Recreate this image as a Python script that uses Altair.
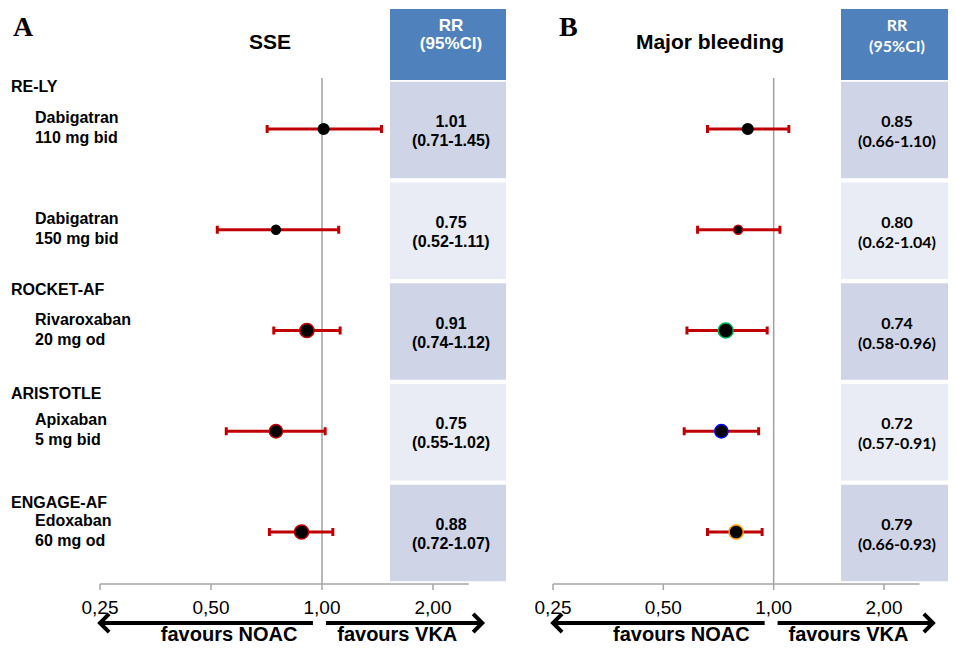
import math
import altair as alt
import pandas as pd

# ---------------- data ----------------
trials = ["RE-LY", "", "ROCKET-AF", "ARISTOTLE", "ENGAGE-AF"]
drug_names = ["Dabigatran", "Dabigatran", "Rivaroxaban", "Apixaban", "Edoxaban"]
doses = ["110 mg bid", "150 mg bid", "20 mg od", "5 mg bid", "60 mg od"]

sse_rr = [1.01, 0.75, 0.91, 0.75, 0.88]
sse_lo = [0.71, 0.52, 0.74, 0.55, 0.72]
sse_hi = [1.45, 1.11, 1.12, 1.02, 1.07]

mb_rr = [0.85, 0.80, 0.74, 0.72, 0.79]
mb_lo = [0.66, 0.62, 0.58, 0.57, 0.66]
mb_hi = [1.10, 1.04, 0.96, 0.91, 0.93]

tick_values = [0.25, 0.5, 1.0, 2.0]
tick_labels = ["0,25", "0,50", "1,00", "2,00"]
panel_letters = ["A", "B"]
panel_titles = ["SSE", "Major bleeding"]
header_text = "RR\n(95%CI)"
favours_text = ["favours NOAC", "favours VKA"]

# ---------------- styles / layout ----------------
ARIAL = "Liberation Sans, Arial, sans-serif"
CALIBRI = "Lato, Carlito, sans-serif"
SERIF = "Liberation Serif, Times New Roman, serif"
RED = "#c00000"
HEADER = "#4f81bd"
CELL_DARK = "#cfd5e7"
CELL_LIGHT = "#e9ecf4"
H = 637

sse_dot_d = [12, 10, 16, 15, 16]
sse_dot_stroke = ["black", "black", RED, RED, RED]
mb_dot_d = [12, 10, 17, 15, 16]
mb_dot_stroke = ["black", RED, "#00b050", "#0000ff", "#ff9900"]
group_offset = [-0.42, 0.0, -0.40, -0.37, -0.29]

ys = alt.Scale(domain=[0, 4], range=[121, 524], nice=False, zero=False)


def panel(idx, rr, lo, hi, dot_d, dot_stroke, xrange, width, box_x, text_x,
          title_x, letter_x, tfont, tsize, tlh, hsize, hlh, with_labels):
    xs = alt.Scale(type="log", base=2, domain=[0.25, 2.0], range=xrange, nice=False)

    def X(f):
        return alt.X(f, type="quantitative", scale=xs, axis=None)

    def Y(f):
        return alt.Y(f, type="quantitative", scale=ys, axis=None)

    df = pd.DataFrame({"row": list(range(5)), "rr": rr, "lo": lo, "hi": hi})
    df["txt"] = [f"{r:.2f}\n({a:.2f}-{b:.2f})" for r, a, b in zip(rr, lo, hi)]
    df["top"] = df["row"] - 0.47
    df["bot"] = df["row"] + 0.49
    df["fill"] = [CELL_DARK if i % 2 == 0 else CELL_LIGHT for i in range(5)]
    df["size"] = [math.pi * (d / 2) ** 2 for d in dot_d]
    df["stroke"] = dot_stroke

    one = pd.DataFrame({"t": [header_text]})
    layers = []

    # table cells
    layers.append(
        alt.Chart(df).mark_rect().encode(
            x=alt.value(box_x[0]), x2=alt.value(box_x[1]),
            y=Y("top"), y2="bot",
            fill=alt.Fill("fill:N", scale=None),
        )
    )
    layers.append(
        alt.Chart(one).mark_rect(color=HEADER).encode(
            x=alt.value(box_x[0]), x2=alt.value(box_x[1]),
            y=alt.value(1), y2=alt.value(72),
        )
    )
    layers.append(
        alt.Chart(one).mark_text(
            font=tfont, fontSize=hsize, fontWeight="bold", color="white",
            lineBreak="\n", lineHeight=hlh, align="center", baseline="middle",
        ).encode(x=alt.value(text_x), y=alt.value(18), text="t:N")
    )
    layers.append(
        alt.Chart(df).mark_text(
            font=tfont, fontSize=tsize, fontWeight="bold", color="black",
            lineBreak="\n", lineHeight=tlh, align="center", baseline="middle", dy=-7,
        ).encode(x=alt.value(text_x), y=Y("row"), text="txt:N")
    )

    # reference line at 1
    layers.append(
        alt.Chart(pd.DataFrame({"v": [1.0]})).mark_rule(color="#a0a0a0", strokeWidth=1.5).encode(
            x=X("v"), y=alt.value(70), y2=alt.value(576)
        )
    )
    # axis
    layers.append(
        alt.Chart(pd.DataFrame({"a": [0.25], "b": [2.5]})).mark_rule(color="#a6a6a6", strokeWidth=1.5).encode(
            x=X("a"), x2="b", y=alt.value(576)
        )
    )
    ticks = pd.DataFrame({"v": tick_values, "lab": tick_labels})
    layers.append(
        alt.Chart(ticks).mark_rule(color="#a6a6a6", strokeWidth=1.5).encode(
            x=X("v"), y=alt.value(576), y2=alt.value(582)
        )
    )
    layers.append(
        alt.Chart(ticks).mark_text(font=ARIAL, fontSize=19, color="black", baseline="middle").encode(
            x=X("v"), y=alt.value(600), text="lab:N"
        )
    )
    # arrows
    layers.append(
        alt.Chart(pd.DataFrame({"a": [0.25, 1.025], "b": [0.945, 2.72]})).mark_rule(
            color="black", strokeWidth=4
        ).encode(x=X("a"), x2="b", y=alt.value(615))
    )
    layers.append(
        alt.Chart(pd.DataFrame({"v": [0.25]})).mark_point(
            shape="M1,-1L0,0L1,1", filled=False, size=330, strokeWidth=4,
            color="black", opacity=1, strokeJoin="miter",
        ).encode(x=X("v"), y=alt.value(615))
    )
    layers.append(
        alt.Chart(pd.DataFrame({"v": [2.72]})).mark_point(
            shape="M-1,-1L0,0L-1,1", filled=False, size=330, strokeWidth=4,
            color="black", opacity=1, strokeJoin="miter",
        ).encode(x=X("v"), y=alt.value(615))
    )
    layers.append(
        alt.Chart(pd.DataFrame({"v": [0.56, 1.6], "t": favours_text})).mark_text(
            font=ARIAL, fontSize=20, fontWeight="bold", color="black", baseline="middle"
        ).encode(x=X("v"), y=alt.value(627), text="t:N")
    )

    # error bars
    layers.append(
        alt.Chart(df).mark_rule(color=RED, strokeWidth=3).encode(x=X("lo"), x2="hi", y=Y("row"))
    )
    layers.append(
        alt.Chart(df).transform_fold(["lo", "hi"], as_=["k", "v"]).mark_tick(
            orient="vertical", color=RED, size=8, thickness=3, opacity=1
        ).encode(x=X("v"), y=Y("row"))
    )
    # point estimates
    layers.append(
        alt.Chart(df).mark_point(
            shape="circle", filled=True, fill="black", opacity=1, strokeWidth=1.5
        ).encode(
            x=X("rr"), y=Y("row"),
            size=alt.Size("size:Q", scale=None),
            stroke=alt.Stroke("stroke:N", scale=None),
        )
    )

    # titles
    layers.append(
        alt.Chart(pd.DataFrame({"t": [panel_titles[idx]]})).mark_text(
            font=ARIAL, fontSize=21, fontWeight="bold", color="black", baseline="middle"
        ).encode(x=alt.value(title_x), y=alt.value(35), text="t:N")
    )
    layers.append(
        alt.Chart(pd.DataFrame({"t": [panel_letters[idx]]})).mark_text(
            font=SERIF, fontSize=28, fontWeight="bold", color="black", align="left",
            baseline="alphabetic",
        ).encode(x=alt.value(letter_x), y=alt.value(28), text="t:N")
    )

    if with_labels:
        lab = pd.DataFrame({
            "row": list(range(5)),
            "trial": trials,
            "drug": [f"{a}\n{b}" for a, b in zip(drug_names, doses)],
        })
        lab["gy"] = [r + o for r, o in zip(range(5), group_offset)]
        layers.append(
            alt.Chart(lab).transform_filter("datum.trial != ''").mark_text(
                font=ARIAL, fontSize=16, fontWeight="bold", color="black",
                align="left", baseline="middle",
            ).encode(x=alt.value(3), y=Y("gy"), text="trial:N")
        )
        layers.append(
            alt.Chart(lab).mark_text(
                font=ARIAL, fontSize=16, fontWeight="bold", color="black",
                align="left", baseline="middle", lineBreak="\n", lineHeight=20, dy=-11,
            ).encode(x=alt.value(27), y=Y("row"), text="drug:N")
        )

    return alt.layer(*layers).properties(width=width, height=H)


left = panel(0, sse_rr, sse_lo, sse_hi, sse_dot_d, sse_dot_stroke,
             [92, 425], 508, (382, 498), 443, 262, 5,
             ARIAL, 16, 19, 17, 18, True)
right = panel(1, mb_rr, mb_lo, mb_hi, mb_dot_d, mb_dot_stroke,
              [37, 368], 432, (325, 432), 381, 194, 43,
              CALIBRI, 16, 20, 16, 21, False)

chart = (
    alt.hconcat(left, right, spacing=0)
    .resolve_scale(x="independent", y="independent")
    .properties(padding=0)
    .configure_view(stroke=None)
)

chart.save("out.html", embed_options={"renderer": "svg", "actions": False})
